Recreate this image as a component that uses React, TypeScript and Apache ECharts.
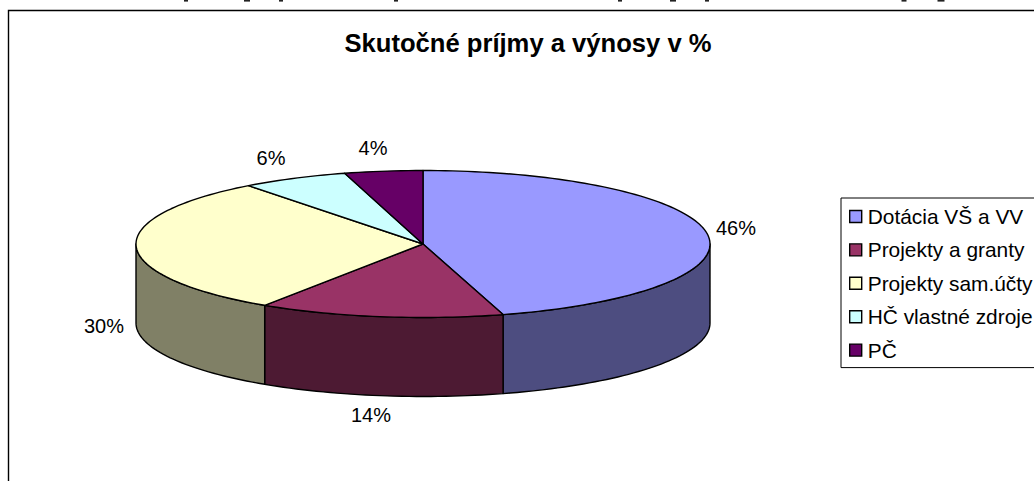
import React, { useEffect, useRef } from "react";
import * as echarts from "echarts";

const categories = ["Dotácia VŠ a VV", "Projekty a granty", "Projekty sam.účty", "HČ vlastné zdroje", "PČ"];
const shares = [45.5, 13.8, 30.3, 6.0, 4.4];
const topColors = ["#9999FF", "#993366", "#FFFFCC", "#CCFFFF", "#660066"];
const sideColors = ["#4D4D80", "#4D1A33", "#808066", "#668080", "#330033"];
const chartTitle = "Skutočné príjmy a výnosy v %";
const labelAnchors = [[736, 228], [371, 415], [104, 326], [271, 158], [373, 148]];
// Residue of the line of body text cropped away above the chart: only descender tips are visible.
const croppedDescenderTips = [[186, 4], [247, 6], [281, 4], [396, 4], [620, 4], [673, 6], [707, 4], [904, 5], [941, 7]];

const CX = 423;
const CY = 244;
const RX = 287;
const RY = 73.5;
const DEPTH = 79;
const SANS = "'Liberation Sans', Arial, sans-serif";

const total = shares.reduce((a, b) => a + b, 0);

function arcPoints(a0: number, a1: number, dy = 0): number[][] {
  const pts: number[][] = [];
  const n = Math.max(2, Math.ceil(Math.abs(a1 - a0) / 1.5));
  for (let i = 0; i <= n; i++) {
    const d = ((a0 + ((a1 - a0) * i) / n) * Math.PI) / 180;
    pts.push([CX + RX * Math.sin(d), CY - RY * Math.cos(d) + dy]);
  }
  return pts;
}

function makeRenderItem(index: number) {
  const before = shares.slice(0, index).reduce((a, b) => a + b, 0);
  return (_params: any, api: any) => {
    const a0 = (before / total) * 360;
    const a1 = ((before + api.value(0)) / total) * 360;
    const stroke = { stroke: "#000", lineWidth: 1.4, lineJoin: "round" };
    const children: any[] = [];
    const s0 = Math.max(a0, 90);
    const s1 = Math.min(a1, 270);
    if (s1 > s0) {
      children.push({
        type: "polygon",
        shape: { points: [...arcPoints(s0, s1), ...arcPoints(s1, s0, DEPTH)] },
        style: { fill: sideColors[index], ...stroke },
      });
    }
    children.push({
      type: "polygon",
      shape: { points: [[CX, CY], ...arcPoints(a0, a1)] },
      style: { fill: topColors[index], ...stroke },
    });
    children.push({
      type: "text",
      style: {
        text: Math.round(api.value(0)) + "%",
        x: labelAnchors[index][0],
        y: labelAnchors[index][1],
        align: "center",
        verticalAlign: "middle",
        fill: "#000",
        fontSize: 20,
        fontFamily: SANS,
      },
    });
    return { type: "group", children };
  };
}

export default function App() {
  const ref = useRef<HTMLDivElement>(null);
  useEffect(() => {
    const chart = echarts.init(ref.current!, undefined, { renderer: "svg" });
    chart.setOption({
      animation: false,
      backgroundColor: "#fff",
      title: {
        text: chartTitle,
        left: 528,
        top: 30,
        textAlign: "center",
        padding: 0,
        textStyle: { fontSize: 25.6, fontWeight: "bold", color: "#000", fontFamily: SANS },
      },
      legend: {
        orient: "vertical",
        left: 841,
        top: 198,
        padding: [8, 30, 7, 8],
        icon: "rect",
        itemWidth: 12,
        itemHeight: 12,
        itemGap: 12.4,
        selectedMode: false,
        backgroundColor: "#fff",
        borderColor: "#000",
        borderWidth: 1,
        itemStyle: { borderColor: "#000", borderWidth: 1.4 },
        textStyle: { fontSize: 20.9, color: "#000", fontFamily: SANS, padding: [0, 0, 0, 1] },
        data: categories,
      },
      graphic: [
        {
          type: "rect",
          z: -10,
          shape: { x: 8.5, y: 10.5, width: 1200, height: 800 },
          style: { fill: "#fff", stroke: "#000", lineWidth: 1.4 },
        },
        ...croppedDescenderTips.map(([x, w]) => ({
          type: "rect",
          z: -5,
          shape: { x: x - w / 2, y: 0, width: w, height: 1.6 },
          style: { fill: "#222" },
        })),
      ],
      series: categories.map((name, i) => ({
        type: "custom",
        name,
        coordinateSystem: "none",
        itemStyle: { color: topColors[i] },
        renderItem: makeRenderItem(i),
        data: [[shares[i]]],
        silent: true,
      })),
    });
    return () => chart.dispose();
  }, []);
  return <div ref={ref} style={{ position: "absolute", left: 0, top: 0, width: 1034, height: 481, overflow: "hidden" }} />;
}
